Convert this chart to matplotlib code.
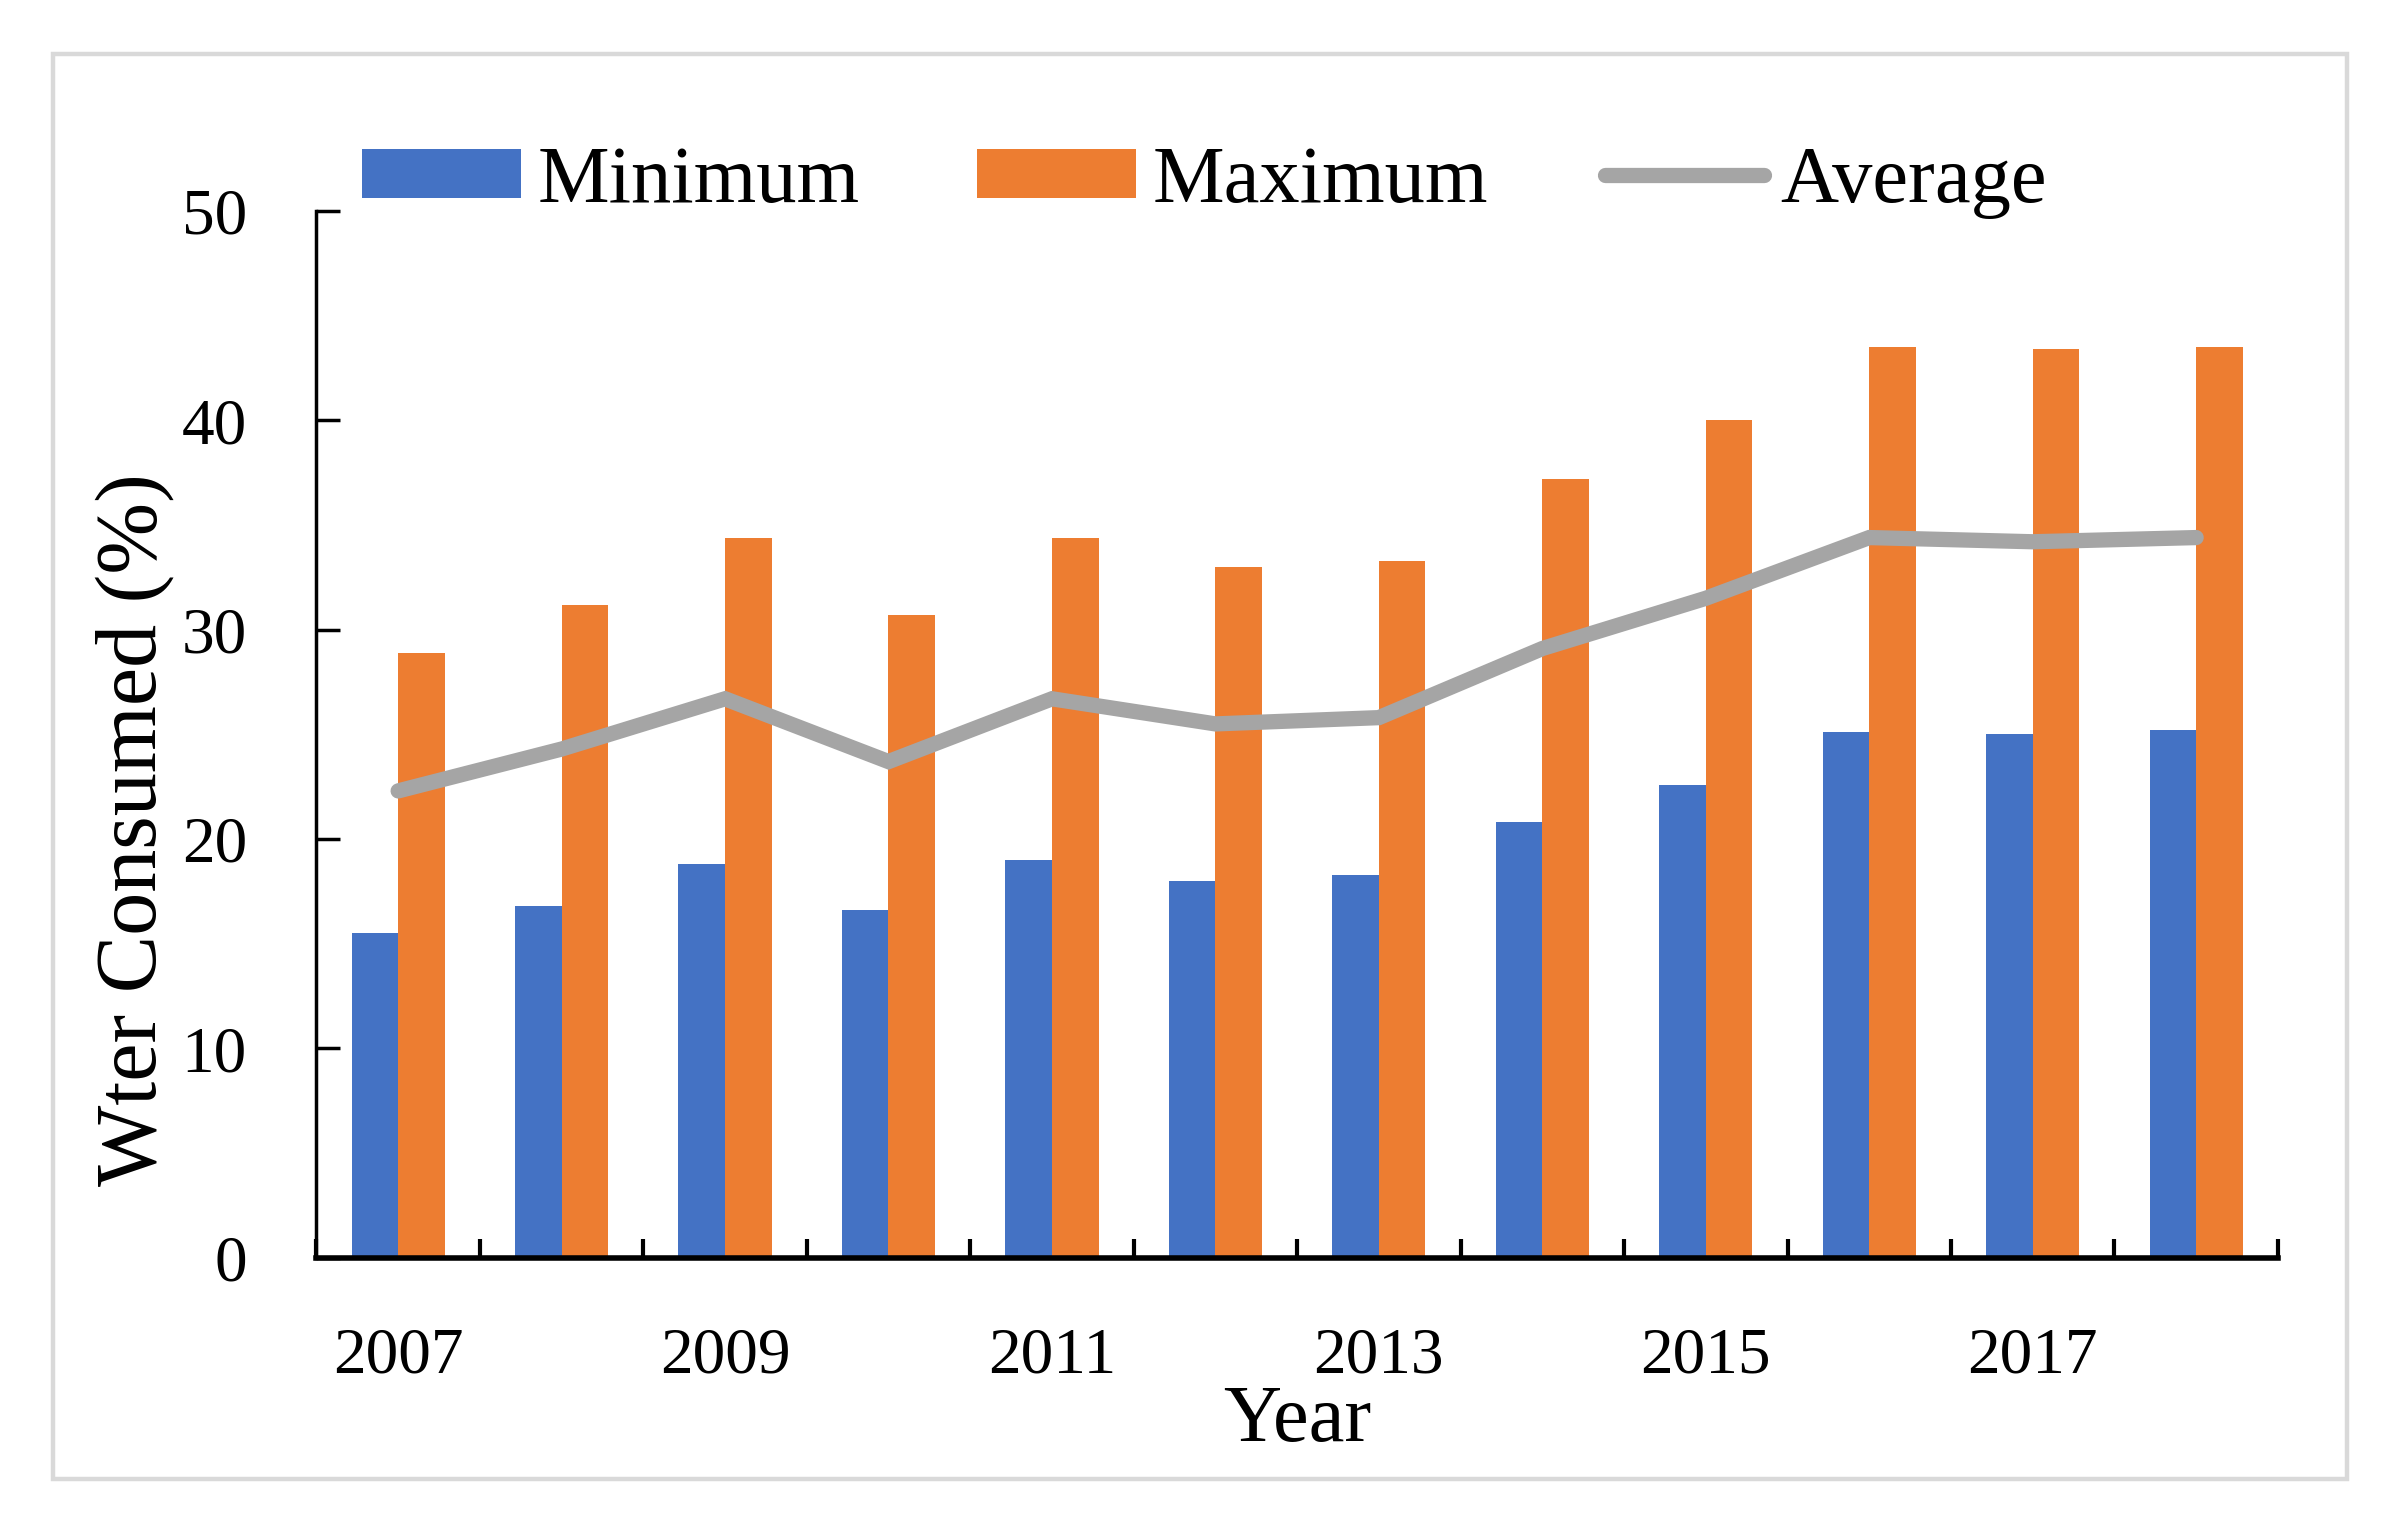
import numpy as np
import matplotlib.pyplot as plt
import matplotlib.patches as mpatches
from matplotlib.ticker import FixedLocator, FixedFormatter

years = [2007, 2008, 2009, 2010, 2011, 2012, 2013, 2014, 2015, 2016, 2017, 2018]
minimum = [15.5, 16.8, 18.8, 16.6, 19.0, 18.0, 18.3, 20.8, 22.6, 25.1, 25.0, 25.2]
maximum = [28.9, 31.2, 34.4, 30.7, 34.4, 33.0, 33.3, 37.2, 40.0, 43.5, 43.4, 43.5]
average = [22.3, 24.3, 26.7, 23.7, 26.7, 25.5, 25.8, 29.1, 31.5, 34.4, 34.2, 34.4]

plt.rcParams['font.family'] = ['Liberation Serif', 'DejaVu Serif']

fig = plt.figure(figsize=(23.97, 15.33), dpi=100)
ax = fig.add_axes([0.1320, 0.1795, 0.8183, 0.6829])

x = np.arange(len(years))
w = 0.285
b1 = ax.bar(x - w / 2, minimum, w, color='#4472c4', label='Minimum')
b2 = ax.bar(x + w / 2, maximum, w, color='#ed7d31', label='Maximum')
l1, = ax.plot(x, average, color='#a5a5a5', lw=11, solid_capstyle='round',
              solid_joinstyle='miter', label='Average')

ax.set_xlim(-0.5, len(years) - 0.5)
ax.set_ylim(0, 50)

for s in ['top', 'right']:
	ax.spines[s].set_visible(False)
ax.spines['bottom'].set_linewidth(4)
ax.spines['left'].set_linewidth(2.5)

# ticks at category edges, labels at centres every other year
ax.xaxis.set_major_locator(FixedLocator(np.arange(-0.5, len(years), 1.0)))
ax.xaxis.set_major_formatter(FixedFormatter([''] * (len(years) + 1)))
ax.xaxis.set_minor_locator(FixedLocator(x))
ax.xaxis.set_minor_formatter(FixedFormatter([str(y) if i % 2 == 0 else '' for i, y in enumerate(years)]))
ax.tick_params(axis='x', which='major', direction='in', length=14, width=3)
ax.tick_params(axis='x', which='minor', length=0, pad=50, labelsize=47)

ax.set_yticks(range(0, 51, 10))
ax.tick_params(axis='y', direction='in', length=17, width=2.5, pad=50, labelsize=47)

fig.text(0.0561, 0.4586, 'Wter Consumed (%)', rotation=90, ha='center', va='center', fontsize=62)
fig.text(0.541, 0.0728, 'Year', ha='center', va='center', fontsize=58)

ax.legend(handles=[b1, b2, l1], loc='center', bbox_to_anchor=(0.5026, 0.881),
          bbox_transform=fig.transFigure, ncol=3, frameon=False, fontsize=58,
          handlelength=1.97, handleheight=0.57, handletextpad=0.21, columnspacing=1.45)

frame = mpatches.Rectangle((0.0223, 0.0349), 0.9567, 0.9302, transform=fig.transFigure,
                           fill=False, edgecolor='#d9d9d9', lw=3.2)
fig.patches.append(frame)

plt.savefig('out.png', dpi=100)
